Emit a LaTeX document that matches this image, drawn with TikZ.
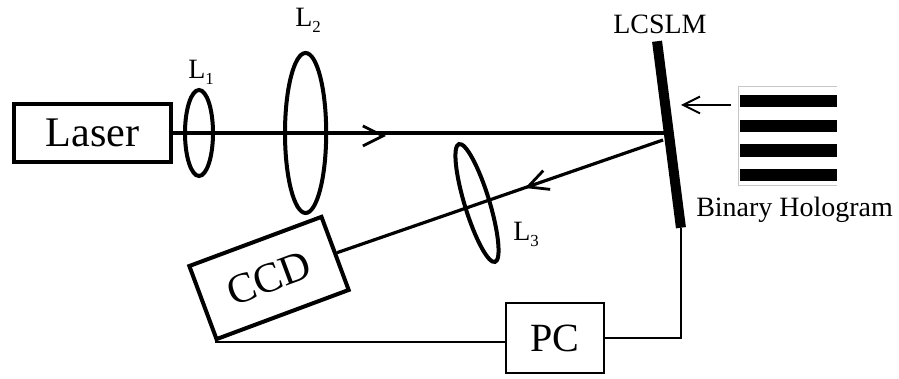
\documentclass[tikz,border=0pt]{standalone}
\usepackage{fontspec}
\setmainfont{Liberation Serif}
\usetikzlibrary{arrows.meta,shapes.geometric}
\newcommand{\lenssub}[1]{L\raisebox{-0.15cm}{\fontsize{12}{12}\selectfont #1}}
\tikzset{
  bigbox/.style={draw=black,line width=0.1cm,inner sep=0pt,font=\fontsize{30}{32}\selectfont},
  thinbox/.style={draw=black,line width=0.055cm,inner sep=0pt,font=\fontsize{28.5}{30}\selectfont},
  lens/.style={draw=black,ellipse,line width=0.1cm,inner sep=0pt},
  lbl/.style={anchor=base west,inner sep=0pt,font=\fontsize{19.9}{22}\selectfont},
  beam/.style={line width=0.08cm},
  wire/.style={line width=0.05cm},
  barb/.style={-{Straight Barb[length=0.5cm,width=0.5cm,line width=0.07cm]}},
  thinbarb/.style={-{Straight Barb[length=0.42cm,width=0.42cm,line width=0.05cm]}},
  stripe/.style={fill=black,minimum width=2.425cm,minimum height=0.3125cm,inner sep=0pt}
}
\begin{document}
\begin{tikzpicture}
\useasboundingbox (0,0) rectangle (22.475,9.475);
\node[bigbox,minimum width=3.925cm,minimum height=1.45cm] (laser) at (2.3125,6.15) {Laser};
\node[lens,minimum width=0.7cm,minimum height=2.15cm] (lone) at (4.975,6.15) {};
\node[lens,minimum width=1.03cm,minimum height=4.0cm] (ltwo) at (7.64,6.15) {};
\node[lens,rotate=17,minimum width=0.62cm,minimum height=3.08cm] (lthree) at (11.925,4.4) {};
\node[fill=black,rotate=7.3,minimum width=0.25cm,minimum height=4.7cm,inner sep=0pt] (slm) at (16.725,6.1125) {};
\node[bigbox,rotate=20.4,minimum width=3.525cm,minimum height=1.95cm] (ccd) at (6.725,2.525) {CCD};
\node[thinbox,minimum width=2.45cm,minimum height=1.75cm] (pc) at (13.875,1.025) {PC};
\node[minimum width=2.45cm,minimum height=2.45cm,inner sep=0pt] (holo) at (19.7,6.075) {};
\foreach \ypos [count=\i] in {6.95,6.325,5.7125,5.1}
  \node[stripe] (stripe\i) at (19.7125,\ypos) {};
\draw[gray!45,line width=0.03cm] (holo.north east)--(holo.north west)--(holo.south west)--(holo.south east);
\node[lbl] (lonetxt) at (4.7,7.5) {\lenssub{1}};
\node[lbl] (ltwotxt) at (7.375,8.8) {\lenssub{2}};
\node[lbl] (lthreetxt) at (12.825,3.45) {\lenssub{3}};
\node[lbl] (slmtxt) at (15.325,8.625) {LCSLM};
\node[lbl] (holotxt) at (17.4,4.05) {Binary Hologram};
\coordinate (tailone) at (9.55,6.075);
\coordinate (tipone) at (9.65,6.075);
\coordinate (hitone) at (16.625,6.15);
\coordinate (hittwo) at (16.575,5.975);
\coordinate (tailtwo) at (13.22,4.81);
\coordinate (tiptwo) at (13.125,4.775);
\coordinate (holofrom) at (18.275,6.85);
\coordinate (holoto) at (17.025,6.85);
\draw[beam] (laser.east)--(hitone);
\draw[barb] (tailone)--(tipone);
\draw[beam] (hittwo)--(ccd.east);
\draw[barb] (tailtwo)--(tiptwo);
\draw[wire,thinbarb] (holofrom)--(holoto);
\draw[wire] (ccd.south west)--(ccd.south west -| pc.west);
\draw[wire] (pc.east) -| (slm.south);
\end{tikzpicture}
\end{document}
